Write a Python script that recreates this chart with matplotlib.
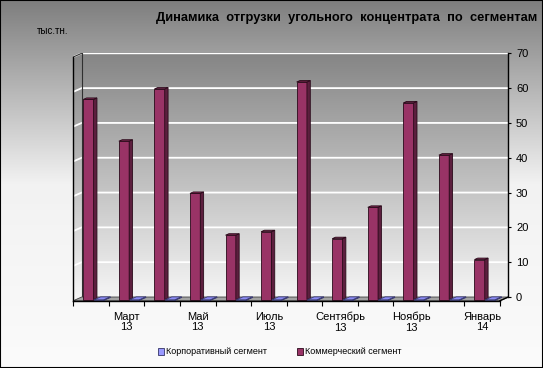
import numpy as np
import matplotlib.pyplot as plt
from matplotlib.patches import Polygon, Patch, Rectangle
from matplotlib.colors import LinearSegmentedColormap

plt.rcParams['font.family'] = ['Liberation Sans', 'DejaVu Sans']

# data
months = ["Февраль\n13", "Март\n13", "Апрель\n13", "Май\n13", "Июнь\n13", "Июль\n13",
          "Август\n13", "Сентябрь\n13", "Октябрь\n13", "Ноябрь\n13", "Декабрь\n13", "Январь\n14"]
corporate = [0.2, 0.2, 0.2, 0.2, 0.2, 0.2, 0.2, 0.2, 0.2, 0.2, 0.2, 0.2]
commercial = [57.5, 45.5, 60.5, 30.5, 18.5, 19.5, 62.5, 17.5, 26.5, 56.5, 41.5, 11.5]
series_names = ["Корпоративный сегмент", "Коммерческий сегмент"]
title = "Динамика  отгрузки  угольного  концентрата  по  сегментам"
units = "тыс.тн."

# fake 3d: shift of the front plane against the back wall, in data units
DX = -0.236
DY = -1.06
YMAX = 70
n = len(months)

fig = plt.figure(figsize=(5.43, 3.68), dpi=100)

# figure background gradient
grad = np.linspace(0, 1, 256).reshape(-1, 1)
bg_cmap = LinearSegmentedColormap.from_list('bg', ['#fbfbfb', '#f2f2f2', '#7e7e7e'], N=256)
bg = fig.add_axes([0, 0, 1, 1], zorder=-1)
bg.imshow(grad, extent=(0, 1, 0, 1), origin='lower', cmap=bg_cmap, aspect='auto')
bg.axis('off')

ax = fig.add_axes([73.3 / 543, (368 - 300.7) / 368, 435.1 / 543, 247.4 / 368])
ax.set_facecolor('none')

# walls
wall_cmap = LinearSegmentedColormap.from_list('wall', ['#f7f7f7', '#858585'])
im = ax.imshow(grad, extent=(DX, n, DY, YMAX), origin='lower', cmap=wall_cmap,
               aspect='auto', zorder=0)
wall = Polygon([(DX, DY), (DX, YMAX + DY), (0, YMAX), (n, YMAX), (n, 0), (n + DX, DY)],
               closed=True, facecolor='none', edgecolor='none')
ax.add_patch(wall)
im.set_clip_path(wall)

# gridlines on back wall and side wall
for v in range(10, YMAX + 1, 10):
    ax.plot([DX, 0, n], [v + DY, v, v], color='white', lw=1.3, zorder=1,
            solid_capstyle='butt')
ax.plot([0, 0], [0, YMAX], color='#303030', lw=0.8, zorder=1)

# floor
floor = Polygon([(DX, DY), (n + DX, DY), (n, 0), (0, 0)], closed=True,
                facecolor='#a3a3a3', edgecolor='#404040', lw=0.6, zorder=2)
ax.add_patch(floor)


def bars3d(x0, vals, w, d0, d1, face, side, top, edge):
    xs = np.arange(len(vals)) + x0
    ax.bar(xs + d0 * DX, vals, width=w, bottom=d0 * DY, align='edge',
           color=face, edgecolor=edge, linewidth=0.6, zorder=3)
    for x, v in zip(xs, vals):
        xr0 = x + w + d0 * DX
        xr1 = x + w + d1 * DX
        ax.add_patch(Polygon([(xr0, d0 * DY), (xr1, d1 * DY), (xr1, v + d1 * DY), (xr0, v + d0 * DY)],
                             closed=True, facecolor=side, edgecolor=edge, lw=0.6, zorder=3))
        ax.add_patch(Polygon([(x + d0 * DX, v + d0 * DY), (xr0, v + d0 * DY),
                              (xr1, v + d1 * DY), (x + d1 * DX, v + d1 * DY)],
                             closed=True, facecolor=top, edgecolor=edge, lw=0.6, zorder=3))


bars3d(0.21, commercial, 0.29, 0.7, 0.3, '#993366', '#5c1f3e', '#7a2950', '#2a0a1a')
bars3d(0.57, corporate, 0.27, 0.95, 0.15, '#9999ff', '#6666cc', '#8c8cf5', '#3a3a70')

ax.set_xlim(DX, n)
ax.set_ylim(DY, YMAX)

# axes lines
ax.spines['top'].set_visible(False)
ax.spines['left'].set_bounds(DY, YMAX + DY)
ax.spines['bottom'].set_bounds(DX, n + DX)
ax.spines['right'].set_bounds(0, YMAX)
for s in ['left', 'bottom', 'right']:
    ax.spines[s].set_linewidth(1.0)
    ax.spines[s].set_color('black')
    ax.spines[s].set_zorder(5)
ax.plot([n + DX, n], [DY, 0], color='black', lw=1.0, clip_on=False, zorder=5)
ax.plot([DX, 0], [YMAX + DY, YMAX], color='#303030', lw=0.8, zorder=5)

ax.yaxis.tick_right()
ax.set_yticks(range(0, YMAX + 1, 10))
ax.tick_params(axis='y', direction='out', length=2.5, width=0.8, pad=3, labelsize=8)

ax.set_xticks([j + DX for j in range(n + 1)])
ax.set_xticklabels([])
ax.set_xticks([i + 0.5 + DX for i in range(n)], minor=True)
ax.set_xticklabels([m if i % 2 == 1 else '' for i, m in enumerate(months)], minor=True)
ax.tick_params(axis='x', which='major', direction='out', length=3.5, width=0.8)
ax.tick_params(axis='x', which='minor', length=0, pad=8, labelsize=8)
for lbl in ax.get_xticklabels(minor=True):
    lbl.set_linespacing(1.05)

# texts
fig.text(537 / 543, (368 - 18) / 368, title, ha='right', va='center',
         fontsize=9.3, fontweight='bold')
fig.text(37 / 543, (368 - 31) / 368, units, ha='left', va='center', fontsize=7)

handles = [Patch(facecolor='#9999ff', edgecolor='#333366', lw=0.6),
           Patch(facecolor='#993366', edgecolor='#2a0a1a', lw=0.6)]
fig.legend(handles, series_names, loc='center', bbox_to_anchor=(0.515, (368 - 352) / 368),
           ncol=2, frameon=False, fontsize=6.5, handlelength=0.7, handleheight=0.7,
           handletextpad=0.2, columnspacing=3.3)

fig.patches.append(Rectangle((0, 0), 1, 1, transform=fig.transFigure, fill=False,
                             edgecolor='black', lw=1.5))

fig.savefig('out.png', dpi=100)
